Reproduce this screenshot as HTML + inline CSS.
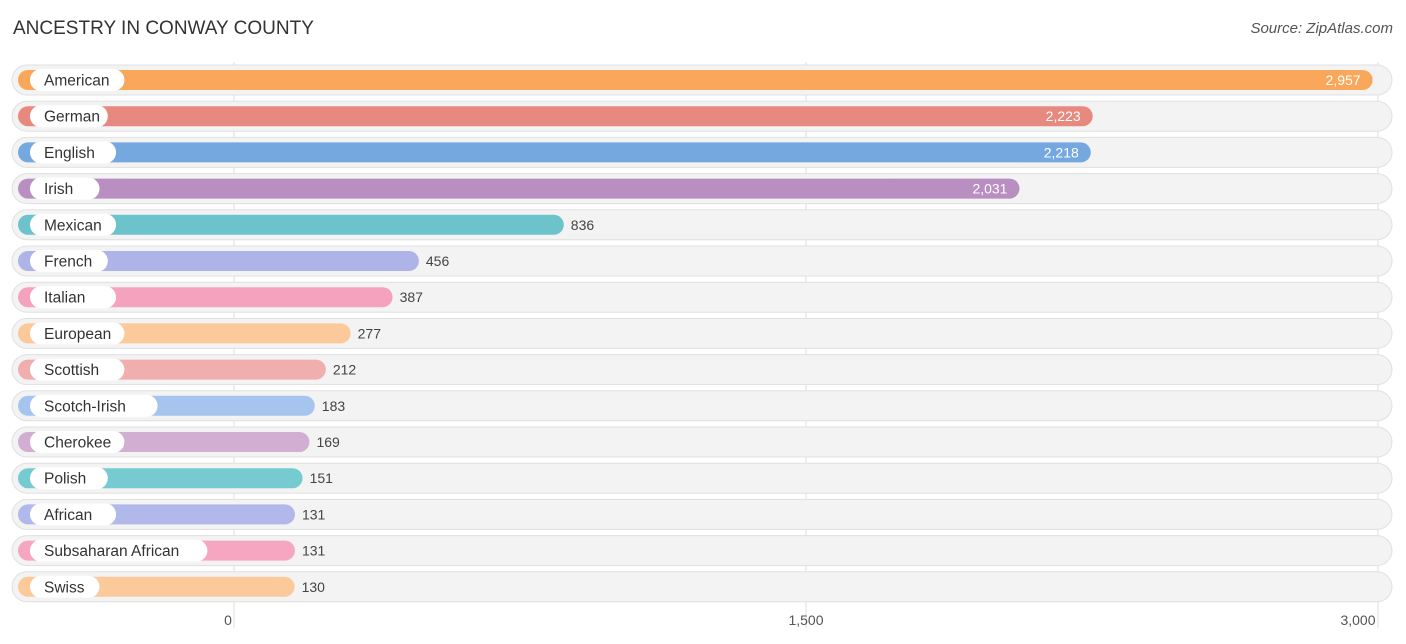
<!DOCTYPE html>
<html><head><meta charset="utf-8"><style>
body{margin:0;background:#fff;font-family:"Liberation Sans",sans-serif;}
#wrap{position:relative;width:1406px;height:644px;overflow:hidden;}
</style></head><body>
<div id="wrap">
<svg id="svg" width="1406" height="644" xmlns="http://www.w3.org/2000/svg">
<text x="13" y="34" font-size="19" fill="#333">ANCESTRY IN CONWAY COUNTY</text>
<text x="1393" y="33" font-size="15" fill="#555" text-anchor="end" font-style="italic">Source: ZipAtlas.com</text>
<g id="grid"></g><g id="rows"></g><g id="ticks"></g>
</svg></div>
<script>
const categories=["American","German","English","Irish","Mexican","French","Italian","European","Scottish","Scotch-Irish","Cherokee","Polish","African","Subsaharan African","Swiss"];
const values=[2957,2223,2218,2031,836,456,387,277,212,183,169,151,131,131,130];
const colors=["#f9a85b","#e8897f","#76a8e0","#b88fc0","#6cc3cc","#aeb4e8","#f4a2bd","#fcc99a","#f0aeae","#a5c5ee","#d2aed2","#75cbd0","#b1b8ea","#f7a6c2","#fcc99a"];
const tickValues=[0,1500,3000];
const tickLabels=["0","1,500","3,000"];
const NS="http://www.w3.org/2000/svg";
const x0=234,pxPer=572/1500;
const xs=v=>x0+v*pxPer;
const barEnd=v=>245+v*pxPer;
const yc=i=>80+i*36.2;
function mk(tag,attrs,parent){const e=document.createElementNS(NS,tag);for(const k in attrs)e.setAttribute(k,attrs[k]);parent.appendChild(e);return e;}
const grid=document.getElementById('grid'),rows=document.getElementById('rows'),ticks=document.getElementById('ticks');
categories.forEach((c,i)=>{
  const y=yc(i);
  const g=mk('g',{},rows);
  
  
  const bg=mk('rect',{x:12,y:y-15,width:1380,height:30,rx:15,fill:'#f3f3f3',stroke:'#e0e0e0','stroke-width':1},g);
  
  const w=barEnd(values[i])-18;
  const b=mk('rect',{x:18,y:y-10,width:w,height:20,rx:10,fill:colors[i]},g);
  
  const lw=c.length*8.3+28;
  const p=mk('rect',{x:30,y:y-11,width:lw,height:22,rx:11,fill:'#fff'},g);
  
  const t=mk('text',{x:44,y:y+5.5,'font-size':15.5,fill:'#333'},g);t.textContent=c;
  
  const inside=values[i]>1500;
  const vt=mk('text',{x:inside?barEnd(values[i])-12:barEnd(values[i])+7,y:y+5,'font-size':14,fill:inside?'#fff':'#444','text-anchor':inside?'end':'start'},g);
  vt.textContent=values[i].toLocaleString('en-US');
  
});
tickValues.forEach((v,i)=>{
  const l=mk('line',{x1:xs(v),x2:xs(v),y1:62,y2:628,stroke:'#ddd','stroke-width':1},grid);
  
  const t=mk('text',{x:xs(v)-(i==0?6:i==2?20:0),y:625,'font-size':14,fill:'#555','text-anchor':'middle'},ticks);
  t.textContent=tickLabels[i];
  
});
</script>
</body></html>
